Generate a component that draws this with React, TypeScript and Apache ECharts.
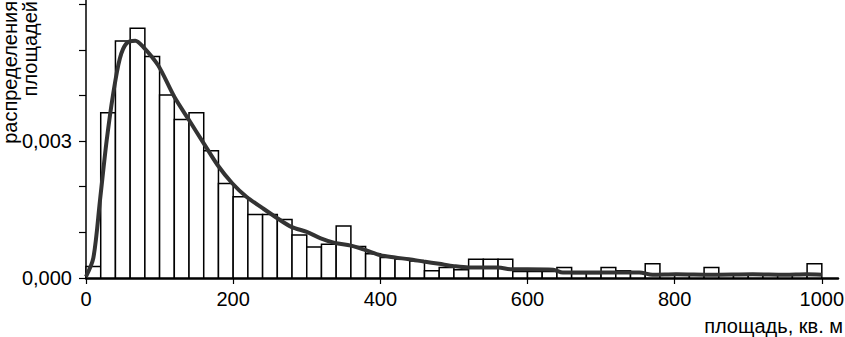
import React, { useEffect, useRef } from "react";
import * as echarts from "echarts";

const binStarts = [0, 20, 40, 60, 80, 100, 120, 140, 160, 180, 200, 220, 240, 260, 280, 300, 320, 340, 360, 380, 400, 420, 440, 460, 480, 500, 520, 540, 560, 580, 600, 620, 640, 660, 680, 700, 720, 740, 760, 780, 800, 820, 840, 860, 880, 900, 920, 940, 960, 980];
const binWidth = 20;
const binValues = [0.00025, 0.00362, 0.00519, 0.00547, 0.00485, 0.00401, 0.00347, 0.00362, 0.00279, 0.00207, 0.00178, 0.00139, 0.00139, 0.00128, 0.00094, 0.00068, 0.00074, 0.00114, 0.00069, 0.00053, 0.00045, 0.00041, 0.00037, 0.00016, 0.00023, 0.00018, 0.00041, 0.00041, 0.00041, 0.00014, 0.00014, 0.00014, 0.00023, 0.0001, 0.0001, 0.00023, 0.00016, 0.00012, 0.00031, 0.00009, 0.00009, 0.00009, 0.00023, 0.00009, 0.00008, 0.00009, 0.00008, 0.00008, 0.00008, 0.00031];

const curveX = [0, 10, 19, 28, 37, 46, 55, 67, 78, 98, 120, 140, 160, 179, 199, 218, 240, 260, 279, 300, 319, 338, 360, 380, 400, 420, 439, 459, 480, 500, 520, 560, 579, 600, 635, 648, 700, 752, 770, 802, 850, 906, 950, 979, 1000];
const curveY = [0.00003, 0.00044, 0.0017, 0.003, 0.00404, 0.00481, 0.00514, 0.0052, 0.00506, 0.00466, 0.00397, 0.00346, 0.00295, 0.00247, 0.00207, 0.00178, 0.00153, 0.00131, 0.00112, 0.00101, 0.00087, 0.00077, 0.00071, 0.00061, 0.0005, 0.00045, 0.00041, 0.00036, 0.00031, 0.00026, 0.00023, 0.00023, 0.00019, 0.00019, 0.00018, 0.00012, 0.00012, 0.00012, 0.00007, 0.00008, 0.00007, 0.00008, 0.00007, 0.00008, 0.00007];

const xTickValues = [0, 200, 400, 600, 800, 1000];
const yTickValues = [0, 0.001, 0.002, 0.003, 0.004, 0.005, 0.006];
const yLabelValues = [0, 0.003];
const xTitle = "площадь, кв. м";
const yTitle = "распределения\nплощадей";

const FONT = "Liberation Sans, Arial, sans-serif";

export default function App() {
  const ref = useRef<HTMLDivElement>(null);
  useEffect(() => {
    document.body.style.margin = "0";
    const chart = echarts.init(ref.current!, null, { renderer: "svg" });
    const histData = binStarts.map((s, i) => [s, s + binWidth, binValues[i]]);
    const curveData = curveX.map((x, i) => [x, curveY[i]]);
    chart.setOption({
      animation: false,
      backgroundColor: "#fff",
      grid: { left: 86, right: 7, top: 0, bottom: 59, containLabel: false, outerBoundsMode: "none" },
      xAxis: {
        type: "value",
        min: 0,
        max: 1022,
        splitLine: { show: false },
        axisLine: { show: true, lineStyle: { color: "#000", width: 2.5 } },
        axisTick: { show: true, customValues: xTickValues, length: 6, lineStyle: { color: "#000", width: 1.2 } },
        axisLabel: {
          customValues: xTickValues,
          color: "#000",
          fontFamily: FONT,
          fontSize: 20,
          margin: 11,
          formatter: (v: number) => String(v),
        },
      },
      yAxis: {
        type: "value",
        min: 0,
        max: 0.00609,
        splitLine: { show: false },
        axisLine: { show: true, lineStyle: { color: "#000", width: 1.5 } },
        axisTick: { show: true, customValues: yTickValues, length: 7, lineStyle: { color: "#000", width: 1.2 } },
        axisLabel: {
          customValues: yLabelValues,
          color: "#000",
          fontFamily: FONT,
          fontSize: 20,
          margin: 14,
          formatter: (v: number) => v.toFixed(3).replace(".", ","),
        },
      },
      graphic: [
        {
          type: "text",
          right: 2,
          top: 316,
          style: { text: xTitle, fill: "#000", font: `20px ${FONT}` },
        },
        {
          type: "text",
          x: 20,
          y: 1,
          rotation: Math.PI / 2,
          style: {
            text: yTitle,
            fill: "#000",
            font: `20px ${FONT}`,
            align: "right",
            verticalAlign: "middle",
            lineHeight: 20,
          },
        },
      ],
      series: [
        {
          type: "custom",
          data: histData,
          encode: { x: [0, 1], y: 2 },
          z: 2,
          renderItem: (params: any, api: any) => {
            const x0 = api.value(0);
            const x1 = api.value(1);
            const v = api.value(2);
            const p0 = api.coord([x0, v]);
            const p1 = api.coord([x1, 0]);
            return {
              type: "rect",
              shape: { x: p0[0], y: p0[1], width: p1[0] - p0[0], height: p1[1] - p0[1] },
              style: { fill: "#fff", stroke: "#000", lineWidth: 1.5 },
            };
          },
        },
        {
          type: "line",
          data: curveData,
          showSymbol: false,
          smooth: 0.3,
          z: 3,
          lineStyle: { color: "#333", width: 4 },
        },
      ],
    });
    return () => chart.dispose();
  }, []);
  return <div ref={ref} style={{ width: 845, height: 337 }} />;
}
